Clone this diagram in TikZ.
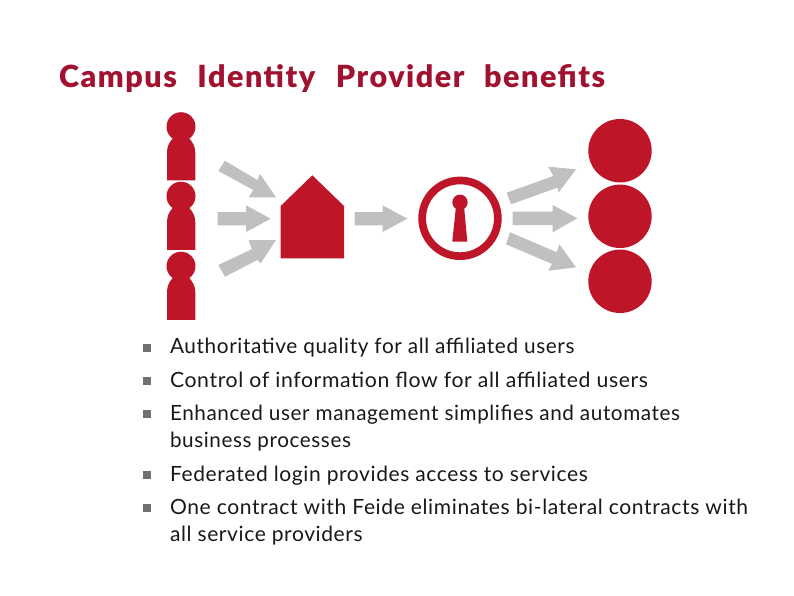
\documentclass[tikz,border=0pt]{standalone}
\usepackage{fontspec}
\setmainfont{Lato}
\newfontfamily\bodyfont[LetterSpace=2.9]{Lato}
\newfontfamily\titlefont[LetterSpace=5.0]{Lato Black}
\definecolor{campusred}{HTML}{BE1628}
\definecolor{titlered}{HTML}{A0122F}
\definecolor{arrowgrey}{HTML}{C0C0C0}
\definecolor{bulletgrey}{HTML}{707070}
\tikzset{
  redshape/.style={fill=campusred,draw=none},
  greyarrow/.style={fill=arrowgrey,draw=none},
  bodyline/.style={anchor=base west,inner sep=0pt,outer sep=0pt,font=\bodyfont\fontsize{21}{21}\selectfont,text=black!90},
  bulletmark/.style={fill=bulletgrey,draw=none,minimum size=8pt,inner sep=0pt,outer sep=0pt,rectangle},
  titleline/.style={anchor=base west,inner sep=0pt,outer sep=0pt,font=\titlefont\fontsize{30.5}{31}\selectfont,text=titlered}
}
\newcommand{\personshape}[1]{%
  \fill[redshape] (181,#1) circle (14.5);
  \fill[redshape] (167,#1+53.6) -- (167,#1+26) .. controls (167,#1+20) and (169,#1+16) .. (172.5,#1+12) -- (189.5,#1+12) .. controls (193,#1+16) and (195.3,#1+20) .. (195.3,#1+26) -- (195.3,#1+53.6) -- cycle;
}
\newcommand{\xfit}[2]{\scalebox{#1}[1]{#2}}
\begin{document}
\begin{tikzpicture}[x=1pt,y=-1pt]
\useasboundingbox (0,0) rectangle (794,595);
\fill[white] (0,0) rectangle (794,595);
\node[titleline] (title) at (59,87) {Campus\hspace{12pt} Identity\hspace{12pt} Provider\hspace{11pt} benefits};
% people
\personshape{126.7}
\personshape{196.2}
\personshape{266.2}
% arrows towards the house
\fill[greyarrow] (218.3,171) -- (225,160.7) -- (257.3,180) -- (260,174) -- (276,197.3) -- (248.7,197.3) -- (253.3,190) -- cycle;
\fill[greyarrow] (217.7,212) -- (246,212) -- (246,205.3) -- (270.7,218.7) -- (246,232) -- (246,225.3) -- (217.7,225.3) -- cycle;
\fill[greyarrow] (218.3,265) -- (225,276.7) -- (257.3,260) -- (260.7,263.3) -- (276,240) -- (248.7,240) -- (251.7,249.3) -- cycle;
\fill[greyarrow] (354.7,212) -- (382.7,212) -- (382.7,205.3) -- (407.3,218.7) -- (382.7,232) -- (382.7,225.3) -- (354.7,225.3) -- cycle;
\fill[redshape] (280.7,258.3) -- (280.7,206) -- (312.3,175.3) -- (344,206) -- (344,258.3) -- cycle;
% lock
\fill[redshape,even odd rule] (460,218.3) circle (41.7) (460,218.3) circle (34);
\fill[redshape] (460,202.3) circle (7.7);
\fill[redshape] (456,206) -- (464,206) -- (467.3,241.7) -- (452.3,241.7) -- cycle;
% right arrows
\fill[greyarrow] (506.7,192.7) -- (511,204.3) -- (557.6,187.6) -- (558.3,192.7) -- (576,169.3) -- (548.3,166.7) -- (553.3,176) -- cycle;
\fill[greyarrow] (512.7,211.7) -- (552.7,211.7) -- (552.7,205) -- (577.3,218.3) -- (552.7,232.3) -- (552.7,225) -- (512.7,225) -- cycle;
\fill[greyarrow] (510,232.3) -- (506,244.3) -- (552,263.9) -- (548.3,270.7) -- (576,267.3) -- (559.3,244.3) -- (556.7,252.2) -- cycle;
% circles
\fill[redshape] (620,150.7) circle (31.7);
\fill[redshape] (620,216.3) circle (31.7);
\fill[redshape] (620,281.3) circle (31.7);
% text
\node[bulletmark] (b1) at (147,347.5) {};
\node[bulletmark] (b2) at (147,381) {};
\node[bulletmark] (b3) at (147,414) {};
\node[bulletmark] (b4) at (147,475) {};
\node[bulletmark] (b5) at (147,508) {};
\node[bodyline] (t1) at (170,353) {\xfit{0.990}{Authoritative quality for all affiliated users}};
\node[bodyline] (t2) at (170,387) {\xfit{1.011}{Control of information flow for all affiliated users}};
\node[bodyline] (t3) at (170,420) {\xfit{0.986}{Enhanced user management simplifies and automates}};
\node[bodyline] (t3b) at (170,447) {\xfit{0.984}{business processes}};
\node[bodyline] (t4) at (170,481) {Federated login provides access to services};
\node[bodyline] (t5) at (170,514) {\xfit{1.003}{One contract with Feide eliminates bi-lateral contracts with}};
\node[bodyline] (t5b) at (170,541) {all service providers};
\end{tikzpicture}
\end{document}
